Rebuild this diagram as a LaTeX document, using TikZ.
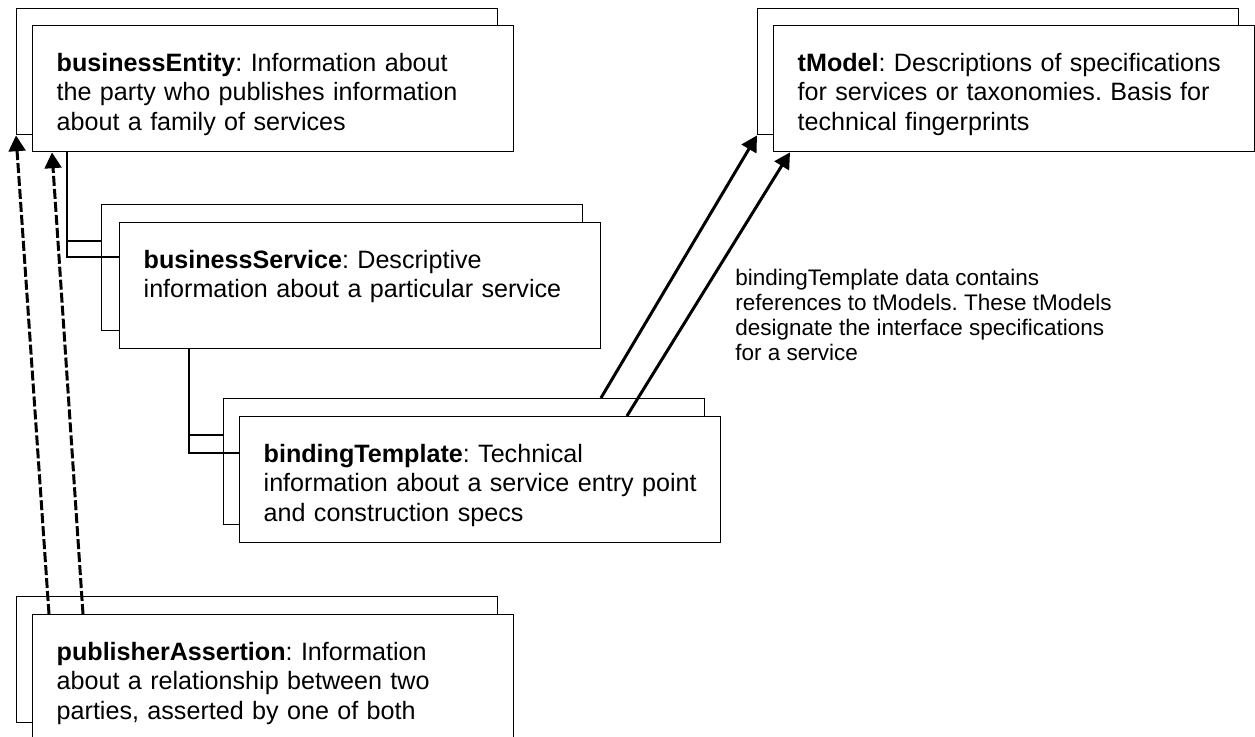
\documentclass[tikz,border=0pt]{standalone}
\usepackage{fontspec}
\setmainfont{Liberation Sans}
\usepackage{tikz}
\usetikzlibrary{arrows.meta}
\frenchspacing
\tikzset{
  card/.style={draw, fill=white, line width=0.8pt, anchor=north west,
    text width=8.66cm, inner xsep=0.48cm, inner ysep=0pt,
    text height=26pt, text depth=45.7pt, align=left,
    font=\fontsize{14.3}{16.8}\selectfont},
  card back/.style={draw, fill=white, line width=0.8pt, anchor=north west,
    minimum width=9.62cm, minimum height=2.52cm, inner sep=0pt},
  link/.style={line width=0.8pt},
  uses ref/.style={-{Triangle[length=9pt,width=9.5pt]}, line width=1.7pt},
  owner ref/.style={uses ref, dash pattern=on 5.7pt off 1.7pt}}

\begin{document}
\begin{tikzpicture}[x=0.02cm, y=-0.02cm]
        \path[use as bounding box, fill=white] (0,0) rectangle (1255,737);

        \node[card back] (entityBack)  at (16,8)    {};
        \node[card]      (entity)      at (32,25)   {\textbf{businessEntity}: Information about\\the party who publishes information\\about a family of services};
        \node[card back] (tmodelBack)  at (757,8)   {};
        \node[card]      (tmodel)      at (773,25)  {\textbf{tModel}: Descriptions of specifications\\for services or taxonomies. Basis for\\technical fingerprints};
        \node[card back] (serviceBack) at (101,204) {};
        \node[card]      (service)     at (119,222) {\textbf{businessService}: Descriptive\\information about a particular service};
        \node[card back] (bindingBack) at (223,398) {};
        \node[card]      (binding)     at (239,416) {\textbf{bindingTemplate}: Technical\\\mbox{information about a service entry point}\\and construction specs};
        \node[card back] (assertBack)  at (16,596)  {};
        \node[card]      (assert)      at (32,614)  {\textbf{publisherAssertion}: Information\\about a relationship between two\\parties, asserted by one of both};

        \node[anchor=north west, inner sep=0pt, align=left,
              font=\fontsize{12.8}{14.2}\selectfont] (note) at (735,269)
          {bindingTemplate data contains\\references to tModels. These tModels\\designate the interface specifications\\for a service};

        % containment
        \draw[link] ([xshift=0.7cm]entity.south west) |- ([yshift=-0.74cm]serviceBack.north west);
        \draw[link] ([xshift=0.7cm]entity.south west) |- ([yshift=-0.7cm]service.north west);
        \draw[link] ([xshift=1.4cm]service.south west) |- ([yshift=-0.74cm]bindingBack.north west);
        \draw[link] ([xshift=1.4cm]service.south west) |- ([yshift=-0.74cm]binding.north west);

        % references
        \draw[uses ref] ([xshift=7.56cm]bindingBack.north west) -- (tmodelBack.south west);
        \draw[uses ref] ([xshift=7.76cm]binding.north west) -- ([xshift=0.34cm]tmodel.south west);
        \draw[owner ref] ([xshift=0.34cm]assert.north west) -- (entityBack.south west);
        \draw[owner ref] ([xshift=1.02cm]assert.north west) -- ([xshift=0.4cm]entity.south west);
      \end{tikzpicture}
\end{document}
